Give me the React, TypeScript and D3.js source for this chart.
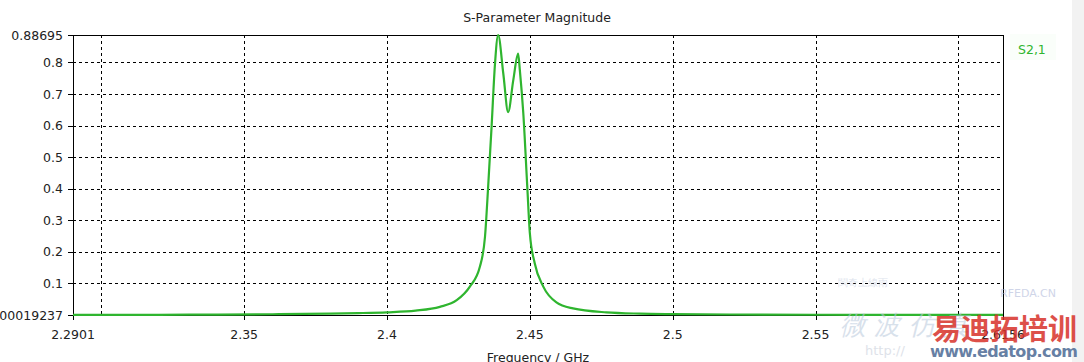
import { scaleLinear, line as d3_line, curveMonotoneX } from "d3";

// frequency (GHz) and |S21|
const freqs = [
  2.2901, 2.32, 2.34, 2.36, 2.38, 2.39, 2.4, 2.41, 2.4185, 2.4244, 2.429, 2.4325,
  2.4343, 2.4354, 2.4366, 2.4378, 2.4389, 2.4407, 2.4424, 2.4442, 2.4459, 2.4465,
  2.4477, 2.4491, 2.45, 2.4517, 2.4547, 2.4593, 2.4651, 2.4768, 2.4885, 2.5, 2.52,
  2.55, 2.58, 2.6156,
];
const s21 = [
  0.0004, 0.0008, 0.0014, 0.0025, 0.0045, 0.0062, 0.0088, 0.014, 0.026, 0.047, 0.09, 0.153,
  0.248, 0.406, 0.596, 0.796, 0.887, 0.765, 0.643, 0.744, 0.828, 0.775,
  0.64, 0.406, 0.259, 0.164, 0.09, 0.04, 0.021, 0.0085, 0.0045, 0.003, 0.0018,
  0.001, 0.0007, 0.0005,
];

const xMin = 2.2901;
const xMax = 2.6156;
const yMin = 0.00019237;
const yMax = 0.88695;

const xGrid = [2.3, 2.35, 2.4, 2.45, 2.5, 2.55, 2.6];
const xTickVals = [2.2901, 2.35, 2.4, 2.45, 2.5, 2.55, 2.6156];
const xTickLabels = ["2.2901", "2.35", "2.4", "2.45", "2.5", "2.55", "2.6156"];
const yGrid = [0.1, 0.2, 0.3, 0.4, 0.5, 0.6, 0.7, 0.8];
const yTickVals = [0.00019237, 0.1, 0.2, 0.3, 0.4, 0.5, 0.6, 0.7, 0.8, 0.88695];
const yTickLabels = ["0.00019237", "0.1", "0.2", "0.3", "0.4", "0.5", "0.6", "0.7", "0.8", "0.88695"];

const W = 1084;
const H = 362;
const m = { left: 73, right: 1003, top: 35, bottom: 315 };
const font = "'DejaVu Sans', Tahoma, sans-serif";
const green = "#2fb52f";

export default function App() {
  const x = scaleLinear().domain([xMin, xMax]).range([m.left, m.right]);
  const y = scaleLinear().domain([yMin, yMax]).range([m.bottom, m.top]);

  const pts = freqs.map((f, i) => ({ f, v: s21[i] }));
  const d = d3_line<{ f: number; v: number }>()
    .x((p) => x(p.f))
    .y((p) => y(p.v))
    .curve(curveMonotoneX)(pts);

  const px = (v: number) => Math.round(v) + 0.5;

  return (
    <svg
      width={W}
      height={H}
      style={{ position: "absolute", left: 0, top: 0, background: "#fff", display: "block" }}
      fontFamily={font}
    >
      <rect x={1072} y={0} width={12} height={H} fill="#f2f2f2" />

      <text x={537} y={22} textAnchor="middle" fontSize={12.5} fill="#222">
        S-Parameter Magnitude
      </text>

      {/* grid */}
      {yGrid.map((v, i) => (
        <line key={"gy" + i} x1={m.left} x2={m.right} y1={px(y(v))} y2={px(y(v))}
          stroke="#000" strokeWidth={1} strokeDasharray="3,3" />
      ))}
      {xGrid.map((v, i) => (
        <line key={"gx" + i} x1={px(x(v))} x2={px(x(v))} y1={m.top} y2={m.bottom}
          stroke="#000" strokeWidth={1} strokeDasharray="3,3" />
      ))}

      {/* frame */}
      <rect x={m.left + 0.5} y={m.top + 0.5} width={m.right - m.left} height={m.bottom - m.top}
        fill="none" stroke="#000" strokeWidth={1} />

      {/* y ticks */}
      {yTickVals.map((v, i) => (
        <g key={"ty" + i}>
          <line x1={m.left - 5} x2={m.left} y1={px(y(v))} y2={px(y(v))} stroke="#000" />
          <text x={63} y={y(v) + 4.5} textAnchor="end" fontSize={12.5} fill="#222">
            {yTickLabels[i]}
          </text>
        </g>
      ))}

      {/* x ticks */}
      {xTickVals.map((v, i) => (
        <g key={"tx" + i}>
          <line x1={px(x(v))} x2={px(x(v))} y1={m.bottom} y2={m.bottom + 5} stroke="#000" />
          <text x={x(v)} y={339} textAnchor="middle" fontSize={12.5} fill="#222">
            {xTickLabels[i]}
          </text>
        </g>
      ))}
      <text x={538} y={362} textAnchor="middle" fontSize={12.5} fill="#222">
        Frequency / GHz
      </text>

      {/* curve */}
      {d && (
        <path d={d} fill="none" stroke={green} strokeWidth={2.2} strokeLinejoin="round" />
      )}

      {/* legend */}
      <rect x={1010} y={34} width={46} height={26} fill="#fafefa" />
      <text x={1018} y={54} fontSize={12.5} fill={green}>
        S2,1
      </text>

      {/* watermark */}
      <g opacity={0.55}>
        <text x={1000} y={297} fontSize={11} fill="#a9b3d6">RFEDA.CN</text>
        <text x={838} y={286} fontSize={10} fill="#c3cde0">閩奇上線雨</text>
        <text x={840} y={334} fontSize={26} fill="#b9c9dc" fontStyle="italic">微 波 仿 真</text>
        <text x={865} y={355} fontSize={13} fill="#c4cbd8">http://</text>
      </g>
      <text x={932} y={340} fontSize={29} fontWeight="bold" fill="#d8322a" opacity={0.85}
        fontFamily="'Noto Sans CJK SC', sans-serif">
        易迪拓培训
      </text>
      <text x={930} y={357} fontSize={16} fontWeight="bold" fill="#4d6a95" opacity={0.85}
        fontFamily="'DejaVu Sans', sans-serif" textLength={148}>
        www.edatop.com
      </text>
    </svg>
  );
}
